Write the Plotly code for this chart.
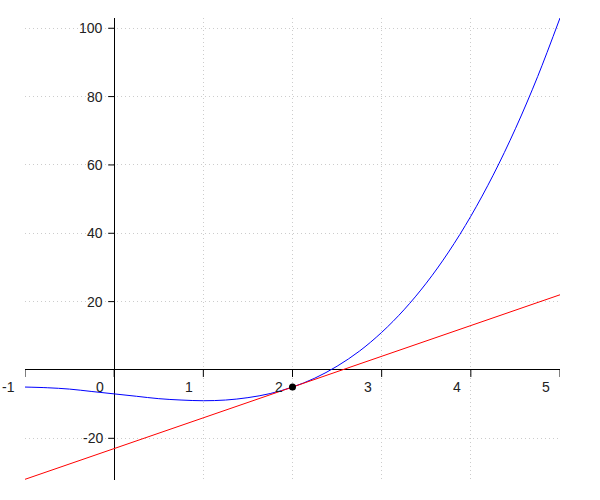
import plotly.graph_objects as go

# Curve samples
curve_x = [-1, -0.75, -0.5, -0.25, 0, 0.25, 0.5, 0.75, 1, 1.25, 1.5, 1.75, 2,
           2.25, 2.5, 2.75, 3, 3.25, 3.5, 3.75, 4, 4.25, 4.5, 4.75, 5]
curve_y = [-5.0, -5.2, -5.6, -6.3, -7.0, -7.7, -8.4, -8.8, -9.0, -8.8, -8.1, -6.9, -5.0,
           -2.4, 1.1, 5.5, 11.0, 17.6, 25.4, 34.5, 45.0, 57.0, 70.6, 85.9, 103.0]

# Tangent line end points
line_x = [-1, 5]
line_y = [-32, 22]

# Marked point
point_x = [2]
point_y = [-5]

x_ticks = [-1, 0, 1, 2, 3, 4, 5]
x_tick_labels = ["-1", "0", "1", "2", "3", "4", "5"]
y_ticks = [-20, 20, 40, 60, 80, 100]
y_tick_labels = ["-20", "20", "40", "60", "80", "100"]

fig = go.Figure()
fig.add_trace(go.Scatter(x=curve_x, y=curve_y, mode="lines",
                         line=dict(color="blue", width=1, shape="spline"),
                         hoverinfo="skip"))
fig.add_trace(go.Scatter(x=line_x, y=line_y, mode="lines",
                         line=dict(color="red", width=1), hoverinfo="skip"))
fig.add_trace(go.Scatter(x=point_x, y=point_y, mode="markers",
                         marker=dict(color="black", size=7), hoverinfo="skip"))

font = dict(family="Liberation Sans", size=14, color="#222222")
shapes = []
annotations = []
for xv, lab in zip(x_ticks, x_tick_labels):
    shapes.append(dict(type="line", xref="x", yref="y", xsizemode="scaled",
                       ysizemode="pixel", yanchor=0, x0=xv, x1=xv, y0=0, y1=-7,
                       line=dict(color="black", width=1)))
    annotations.append(dict(x=xv, y=0, xref="x", yref="y", text=lab, showarrow=False,
                            xanchor="right", yanchor="middle", xshift=-8, yshift=-17,
                            font=font))
for yv, lab in zip(y_ticks, y_tick_labels):
    shapes.append(dict(type="line", xref="x", yref="y", xsizemode="pixel",
                       ysizemode="scaled", xanchor=0, x0=0, x1=-6, y0=yv, y1=yv,
                       line=dict(color="black", width=1)))
    annotations.append(dict(x=0, y=yv, xref="x", yref="y", text=lab, showarrow=False,
                            xanchor="right", yanchor="middle", xshift=-9,
                            font=font))

fig.update_layout(
    width=600, height=500,
    margin=dict(l=25, r=40, t=18, b=20, autoexpand=False),
    paper_bgcolor="white", plot_bgcolor="white",
    showlegend=False, hovermode=False,
    shapes=shapes, annotations=annotations,
    xaxis=dict(range=[-1, 5], tickvals=x_ticks, showticklabels=False, ticks="",
               showgrid=True, gridcolor="#cccccc", griddash="1px,3px", gridwidth=1,
               zeroline=True, zerolinecolor="black", zerolinewidth=1,
               showline=False, fixedrange=True, automargin=False),
    yaxis=dict(range=[-32.2, 103], tickvals=y_ticks, showticklabels=False, ticks="",
               showgrid=True, gridcolor="#cccccc", griddash="1px,3px", gridwidth=1,
               zeroline=True, zerolinecolor="black", zerolinewidth=1,
               showline=False, fixedrange=True, automargin=False),
)
fig.write_html("out.html", config={"displayModeBar": False},
               post_script="document.body.style.margin='0';")
